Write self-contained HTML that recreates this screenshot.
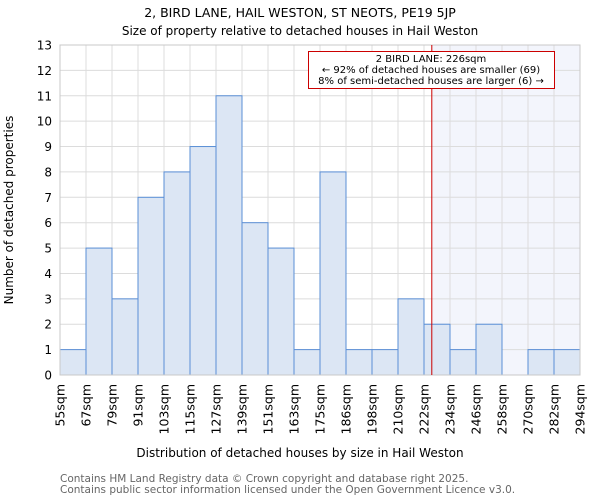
<!DOCTYPE html>
<html><head><meta charset="utf-8"><style>
body{margin:0;background:#fff;font-family:"DejaVu Sans","Liberation Sans",sans-serif}
</style></head><body>
<svg width="600" height="500" xmlns="http://www.w3.org/2000/svg" style="font-family:'DejaVu Sans','Liberation Sans',sans-serif">
<text x="300" y="17" text-anchor="middle" font-size="12.5">2, BIRD LANE, HAIL WESTON, ST NEOTS, PE19 5JP</text>
<text x="300" y="35" text-anchor="middle" font-size="12">Size of property relative to detached houses in Hail Weston</text>
<g id="plot"></g>
<text x="300" y="457" text-anchor="middle" font-size="12">Distribution of detached houses by size in Hail Weston</text>
<text transform="translate(13,210) rotate(-90)" text-anchor="middle" font-size="12">Number of detached properties</text>
<text x="60" y="482" font-size="10.5" fill="#666">Contains HM Land Registry data © Crown copyright and database right 2025.</text>
<text x="60" y="493" font-size="10.5" fill="#666">Contains public sector information licensed under the Open Government Licence v3.0.</text>
</svg>
<script>
const categories=["55sqm","67sqm","79sqm","91sqm","103sqm","115sqm","127sqm","139sqm","151sqm","163sqm","175sqm","186sqm","198sqm","210sqm","222sqm","234sqm","246sqm","258sqm","270sqm","282sqm","294sqm"];
const counts=[1,5,3,7,8,9,11,6,5,1,8,1,1,3,2,1,2,0,1,1];
const yTicks=[0,1,2,3,4,5,6,7,8,9,10,11,12,13];
const markerIndex=14.3;
const NS="http://www.w3.org/2000/svg";
const g=document.getElementById('plot');
const X0=60,X1=580,Y0=375,Y1=45,yMax=13;
const bw=(X1-X0)/counts.length;
const xs=i=>X0+i*bw;
const ys=v=>Y0-(v/yMax)*(Y0-Y1);
function mk(t,a){const e=document.createElementNS(NS,t);for(const k in a)e.setAttribute(k,a[k]);g.appendChild(e);return e;}
let sh=mk('rect',{x:xs(markerIndex),y:Y1,width:X1-xs(markerIndex),height:Y0-Y1,fill:'#f3f5fc'});


yTicks.forEach(v=>{
 const l=mk('line',{x1:X0,x2:X1,y1:ys(v),y2:ys(v),stroke:'#dcdcdc','stroke-width':1});
 
 
 const t=mk('text',{x:X0-8,y:ys(v)+4.5,'text-anchor':'end','font-size':12});t.textContent=v;
 
 
});
categories.forEach((c,i)=>{
 const l=mk('line',{x1:xs(i),x2:xs(i),y1:Y1,y2:Y0,stroke:'#dcdcdc','stroke-width':1});
 
 
 const t=mk('text',{transform:`translate(${xs(i)+4.5},384) rotate(-90)`,'text-anchor':'end','font-size':12.5});t.textContent=c;
 
 
});
counts.forEach((v,i)=>{
 if(v<=0)return;
 const r=mk('rect',{x:xs(i),y:ys(v),width:bw,height:Y0-ys(v),fill:'#dce6f4',stroke:'#5a8fd6','stroke-width':1});
 
 
});
const ax=mk('rect',{x:X0,y:Y1,width:X1-X0,height:Y0-Y1,fill:'none',stroke:'#c8c8c8'});


const ml=mk('line',{x1:xs(markerIndex),x2:xs(markerIndex),y1:Y1,y2:Y0,stroke:'#cc0000','stroke-width':1});


const box=mk('rect',{x:308.5,y:51.5,width:246,height:37,fill:'#fff',stroke:'#cc0000'});


["2 BIRD LANE: 226sqm","← 92% of detached houses are smaller (69)","8% of semi-detached houses are larger (6) →"].forEach((s,k)=>{
 const t=mk('text',{x:431,y:62+k*11,'text-anchor':'middle','font-size':10});t.textContent=s;
 
 
});
</script>
</body></html>
